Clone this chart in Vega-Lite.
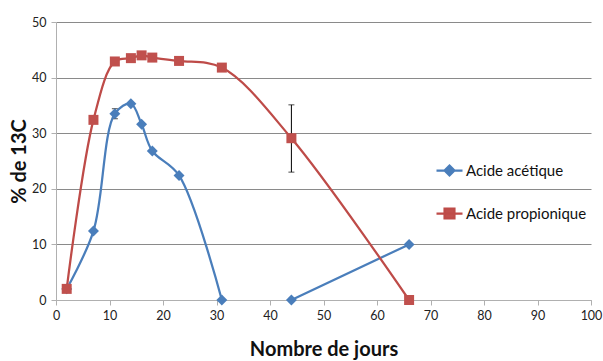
{
  "$schema": "https://vega.github.io/schema/vega-lite/v6.json",
  "width": 535,
  "height": 278,
  "autosize": {"type": "none"},
  "padding": {"left": 56, "top": 22, "right": 12, "bottom": 61},
  "background": "white",
  "config": {
    "font": "Lato",
    "view": {"stroke": null},
    "axis": {"labelFont": "Lato", "titleFont": "Lato", "labelColor": "#222", "titleColor": "#111", "labelFontSize": 12.5}
  },
  "datasets": {
    "series": [
      {"acide": "Acide acétique", "jour": 2, "pct": 2.0},
      {"acide": "Acide acétique", "jour": 7, "pct": 12.4},
      {"acide": "Acide acétique", "jour": 11, "pct": 33.5},
      {"acide": "Acide acétique", "jour": 14, "pct": 35.3},
      {"acide": "Acide acétique", "jour": 16, "pct": 31.6},
      {"acide": "Acide acétique", "jour": 18, "pct": 26.8},
      {"acide": "Acide acétique", "jour": 23, "pct": 22.4},
      {"acide": "Acide acétique", "jour": 31, "pct": 0},
      {"acide": "Acide acétique", "jour": 37, "pct": null},
      {"acide": "Acide acétique", "jour": 44, "pct": 0},
      {"acide": "Acide acétique", "jour": 66, "pct": 10},
      {"acide": "Acide propionique", "jour": 2, "pct": 2.0},
      {"acide": "Acide propionique", "jour": 7, "pct": 32.4},
      {"acide": "Acide propionique", "jour": 11, "pct": 42.9},
      {"acide": "Acide propionique", "jour": 14, "pct": 43.5},
      {"acide": "Acide propionique", "jour": 16, "pct": 44.0},
      {"acide": "Acide propionique", "jour": 18, "pct": 43.6},
      {"acide": "Acide propionique", "jour": 23, "pct": 43.0},
      {"acide": "Acide propionique", "jour": 31, "pct": 41.8},
      {"acide": "Acide propionique", "jour": 44, "pct": 29.1},
      {"acide": "Acide propionique", "jour": 66, "pct": 0}
    ],
    "erreurs": [
      {"acide": "Acide acétique", "jour": 11, "bas": 32.6, "haut": 34.4},
      {"acide": "Acide propionique", "jour": 44, "bas": 23.0, "haut": 35.1}
    ]
  },
  "layer": [
    {
      "data": {"name": "erreurs"},
      "mark": {"type": "rule", "color": "#000", "strokeWidth": 1},
      "encoding": {
        "x": {"field": "jour", "type": "quantitative", "scale": {"domain": [0, 100]}},
        "y": {"field": "bas", "type": "quantitative", "scale": {"domain": [0, 50]}},
        "y2": {"field": "haut"}
      }
    },
    {
      "data": {"name": "erreurs"},
      "mark": {"type": "tick", "color": "#000", "thickness": 1, "size": 6, "orient": "horizontal"},
      "encoding": {
        "x": {"field": "jour", "type": "quantitative"},
        "y": {"field": "bas", "type": "quantitative"}
      }
    },
    {
      "data": {"name": "erreurs"},
      "mark": {"type": "tick", "color": "#000", "thickness": 1, "size": 6, "orient": "horizontal"},
      "encoding": {
        "x": {"field": "jour", "type": "quantitative"},
        "y": {"field": "haut", "type": "quantitative"}
      }
    },
    {
      "data": {"name": "series"},
      "mark": {"type": "line", "interpolate": "catmull-rom", "strokeWidth": 2.25, "invalid": "break-paths-filter-domains"},
      "encoding": {
        "x": {
          "field": "jour", "type": "quantitative",
          "scale": {"domain": [0, 100], "nice": false},
          "axis": {
            "values": [0, 10, 20, 30, 40, 50, 60, 70, 80, 90, 100],
            "grid": false, "domainColor": "#b0b0b0", "tickColor": "#b0b0b0", "tickSize": 5,
            "labelPadding": 4, "labelFlush": false, "labelOverlap": false,
            "title": "Nombre de jours", "titleFontSize": 20, "titleFontWeight": "bold", "titlePadding": 18
          }
        },
        "y": {
          "field": "pct", "type": "quantitative",
          "scale": {"domain": [0, 50], "nice": false},
          "axis": {
            "values": [0, 10, 20, 30, 40, 50],
            "grid": true, "gridColor": "#8a8a8a", "gridWidth": 1,
            "domainColor": "#b0b0b0", "tickColor": "#b0b0b0", "tickSize": 5,
            "labelPadding": 5,
            "title": "% de 13C", "titleFontSize": 20, "titleFontWeight": "bold", "titlePadding": 2
          }
        },
        "color": {
          "field": "acide", "type": "nominal",
          "scale": {"domain": ["Acide acétique", "Acide propionique"], "range": ["#4a7ebb", "#be4b48"]},
          "legend": {
            "title": null, "orient": "none", "legendX": 379, "legendY": 134,
            "labelFontSize": 15, "labelFont": "Lato", "labelColor": "#111",
            "symbolSize": 676, "symbolStrokeWidth": 2.25, "rowPadding": 19, "labelOffset": 2,
            "encode": {
              "symbols": {
                "update": {
                  "shape": {"signal": "datum.value === 'Acide acétique' ? 'M-1,0H1M0,-0.38L0.38,0L0,0.38L-0.38,0Z' : 'M-1,0H1M-0.38,-0.38H0.38V0.38H-0.38Z'"},
                  "fill": {"signal": "datum.value === 'Acide acétique' ? '#4a7ebb' : '#c0504d'"},
                  "stroke": {"signal": "datum.value === 'Acide acétique' ? '#4a7ebb' : '#be4b48'"}
                }
              }
            }
          }
        }
      }
    },
    {
      "data": {"name": "series"},
      "mark": {"type": "point", "filled": true, "opacity": 1},
      "encoding": {
        "x": {"field": "jour", "type": "quantitative"},
        "y": {"field": "pct", "type": "quantitative"},
        "shape": {
          "condition": {"test": "datum.acide === 'Acide acétique'", "value": "diamond"},
          "value": "square"
        },
        "size": {
          "condition": {"test": "datum.acide === 'Acide acétique'", "value": 120},
          "value": 100
        },
        "fill": {
          "condition": {"test": "datum.acide === 'Acide acétique'", "value": "#4a7ebb"},
          "value": "#c0504d"
        }
      }
    }
  ]
}
